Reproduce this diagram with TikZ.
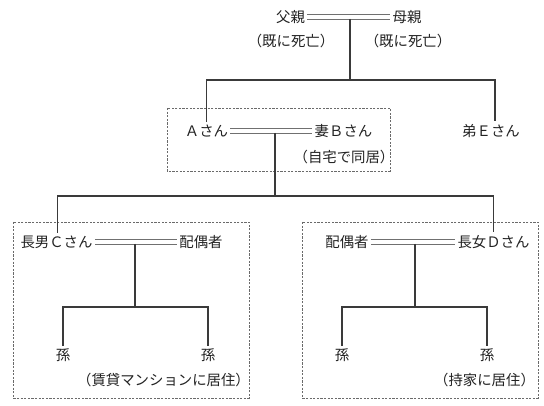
\documentclass[tikz,border=0pt]{standalone}
\usepackage{fontspec}
\setmainfont{Noto Sans CJK JP}
\usetikzlibrary{calc,positioning}
\definecolor{ink}{HTML}{222222}
\definecolor{tieline}{HTML}{3A3A3A}
\definecolor{pairline}{HTML}{707070}
\definecolor{groupline}{HTML}{6A6A6A}
\newcommand{\kinfont}{\fontsize{10.8}{13}\selectfont}
\tikzset{
 every node/.append style={font=\kinfont,text=ink,align=center},
 person/.style={inner xsep=1.5pt,inner ysep=2pt},
 note/.style={inner sep=1pt},
 tie/.style={draw=tieline,line width=.8pt},
 pair/.style={draw=pairline,double=white,double distance=2.3pt,line width=.75pt},
 group/.style={draw=groupline,dash pattern=on 1.6pt off 1.1pt,line width=.7pt},
}

\begin{document}
\begin{tikzpicture}[x=.75pt,y=-.75pt]
\useasboundingbox (0,0) rectangle (544,406);

% parents
\node[person] (father) at (290.5,17) {父親};
\node[person] (mother) at (407,17) {母親};
\node[note] (fnote) at (291,41) {（既に死亡）};
\node[note] (mnote) at (408,41) {（既に死亡）};
\draw[pair] (father) -- (mother);
\coordinate (pm) at (350,19);
\coordinate (bus1) at (350,80);

% A couple and brother
\draw[group] (167,108) rectangle (390,171);
\node[person] (sonA) at (206.5,131) {Ａさん};
\node[person] (wifeB) at (343.5,131) {妻Ｂさん};
\node[note] (bnote) at (344,157) {（自宅で同居）};
\node[person] (brotherE) at (491,131) {弟Ｅさん};
\draw[pair] (sonA) -- (wifeB);
\draw[tie] (pm) -- (bus1);
\draw[tie] (sonA.north) |- (bus1) -| ([xshift=3]brotherE.north);
\coordinate (pab) at (275,133);
\coordinate (bus2) at (275,196);

% C family
\draw[group] (13,222) rectangle (249,398);
\node[person] (sonC) at (56.5,242) {長男Ｃさん};
\node[person] (spouseC) at (201,242) {配偶者};
\draw[pair] (sonC) -- (spouseC);
\coordinate (pc) at (135,244);
\coordinate (bus3) at (135,307);
\node[person] (gc1) at (63,355) {孫};
\node[person] (gc2) at (208,355) {孫};
\node[note] (cnote) at (163.5,380) {（賃貸マンションに居住）};
\draw[tie] (pc) -- (bus3);
\draw[tie] (gc1.north) |- (bus3) -| (gc2.north);

% D family
\draw[group] (302,222) rectangle (538,398);
\node[person] (spouseD) at (347,242) {配偶者};
\node[person] (daughterD) at (493.5,242) {長女Ｄさん};
\draw[pair] (spouseD) -- (daughterD);
\coordinate (pd) at (415,244);
\coordinate (bus4) at (415,307);
\node[person] (gd1) at (342,355) {孫};
\node[person] (gd2) at (487,355) {孫};
\node[note] (dnote) at (484.5,380) {（持家に居住）};
\draw[tie] (pd) -- (bus4);
\draw[tie] (gd1.north) |- (bus4) -| (gd2.north);

% children of A and B
\draw[tie] (pab) -- (bus2);
\draw[tie] ([xshift=.5]sonC.north) |- (bus2) -| (daughterD.north);

\end{tikzpicture}
\end{document}
